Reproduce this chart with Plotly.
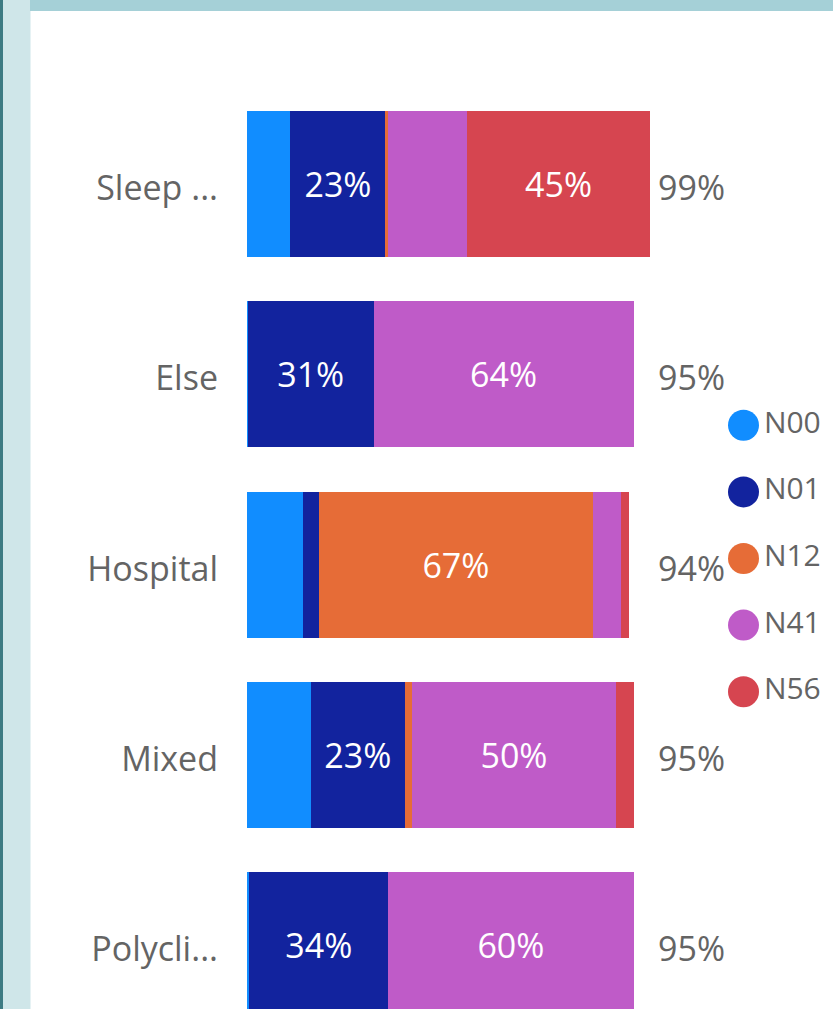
import plotly.graph_objects as go

# ---- data ----
categories = ["Sleep ...", "Else", "Hospital", "Mixed", "Polycli..."]
series_names = ["N00", "N01", "N12", "N41", "N56"]
n00 = [10.7, 0.2, 13.9, 15.8, 0.6]
n01 = [23.4, 31.0, 3.9, 23.0, 34.2]
n12 = [0.7, 0.0, 67.3, 1.8, 0.0]
n41 = [19.4, 64.0, 6.9, 50.3, 60.4]
n56 = [45.1, 0.0, 2.0, 4.3, 0.0]
series_values = [n00, n01, n12, n41, n56]
colors = ["#118DFF", "#12239E", "#E66C37", "#BF5BC8", "#D64550"]

W, H = 833, 1009
ML, MT = 247, 89
PW, PH = W - ML, H - MT
FONT = "Open Sans"
GREY = "#646464"

def px_x(p):
    return (p - ML) / PW

def px_y(p):
    return (H - p) / PH

fig = go.Figure()

for name, vals, col in zip(series_names, series_values, colors):
    fig.add_trace(go.Bar(
        y=categories, x=vals, name=name, orientation="h",
        marker=dict(color=col, line=dict(width=0)),
        text=[f"{round(v)}%" if v >= 20 else "" for v in vals],
        textposition="inside", insidetextanchor="middle", textangle=0,
        insidetextfont=dict(family=FONT, size=34, color="white"),
        showlegend=False, hoverinfo="skip",
    ))

# totals
totals = [sum(v[i] for v in series_values) for i in range(len(categories))]
label_x = max(totals)
for cat, tot in zip(categories, totals):
    fig.add_annotation(x=label_x, y=cat, xref="x", yref="y",
                       text=f"{round(tot)}%", showarrow=False,
                       xanchor="left", xshift=6, yshift=-3,
                       font=dict(family=FONT, size=34, color=GREY))

# custom legend with large round markers
fig.add_trace(go.Scatter(
    x=[0] * len(series_names), y=series_names, xaxis="x2", yaxis="y2",
    mode="markers+text", text=series_names, textposition="middle right",
    marker=dict(size=31, color=colors, line=dict(width=0)),
    textfont=dict(family=FONT, size=30, color=GREY),
    showlegend=False, hoverinfo="skip", cliponaxis=False,
))

bar_w = 406  # px for 100%
fig.update_layout(
    width=W, height=H,
    margin=dict(l=ML, r=0, t=MT, b=0, pad=0),
    paper_bgcolor="white", plot_bgcolor="white",
    barmode="stack", bargap=0.233,
    showlegend=False,
    xaxis=dict(domain=[0, bar_w / PW], range=[0, 100], visible=False, fixedrange=True),
    yaxis=dict(range=[4.336, -0.5], showgrid=False, zeroline=False, showline=False,
               ticks="", ticklabelstandoff=28, ticklabelshift=-4,
               tickfont=dict(family=FONT, size=34, color=GREY)),
    xaxis2=dict(domain=[px_x(743.5), 1], range=[0, 1], visible=False, anchor="y2"),
    yaxis2=dict(domain=[px_y(728), px_y(389)], visible=False, anchor="x2",
                autorange="reversed", type="category"),
    shapes=[
        dict(type="rect", xref="paper", yref="paper", x0=px_x(30), x1=px_x(W),
             y0=px_y(11), y1=px_y(0), fillcolor="#A5D0D7", line=dict(width=0), layer="below"),
        dict(type="rect", xref="paper", yref="paper", x0=px_x(0), x1=px_x(30),
             y0=px_y(H), y1=px_y(0), fillcolor="#CFE6E9", line=dict(width=0), layer="below"),
        dict(type="rect", xref="paper", yref="paper", x0=px_x(0), x1=px_x(3),
             y0=px_y(H), y1=px_y(0), fillcolor="#3D7B83", line=dict(width=0), layer="below"),
        dict(type="rect", xref="paper", yref="paper", x0=px_x(30), x1=px_x(31),
             y0=px_y(H), y1=px_y(11), fillcolor="#E6F2F4", line=dict(width=0), layer="below"),
    ],
)

fig.write_html(
    "out.html",
    config={"displayModeBar": False},
    post_script="document.body.style.margin='0';document.body.style.overflow='hidden';",
)
